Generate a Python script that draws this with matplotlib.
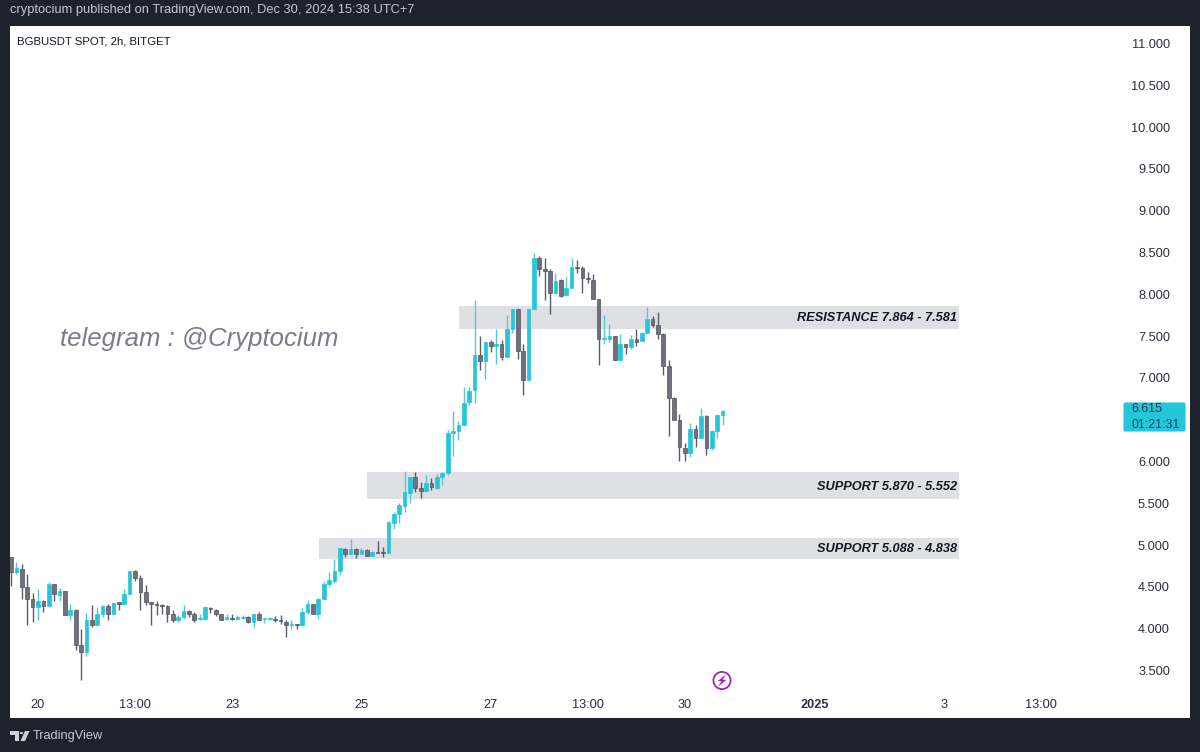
import matplotlib
matplotlib.use("Agg")
import matplotlib.pyplot as plt
from matplotlib.patches import Rectangle, FancyBboxPatch, Polygon, Circle

plt.rcParams['font.family'] = ['Liberation Sans', 'DejaVu Sans']

opens = [4.86,4.68,4.72,4.50,4.36,4.26,4.33,4.27,4.53,4.40,4.45,4.16,4.22,3.81,3.72,4.10,4.04,4.18,4.27,4.18,
         4.32,4.30,4.41,4.69,4.61,4.44,4.32,4.29,4.28,4.27,4.18,4.10,4.14,4.21,4.17,4.12,4.12,4.24,4.22,4.17,
         4.12,4.13,4.12,4.13,4.14,4.08,4.18,4.12,4.12,4.12,4.11,4.08,4.04,4.05,4.04,4.20,4.30,4.18,4.36,4.53,
         4.57,4.69,4.95,4.89,4.95,4.89,4.94,4.87,4.92,4.91,4.90,5.26,5.37,5.47,5.62,5.81,5.68,5.65,5.74,5.68,
         5.81,5.86,6.34,6.37,6.44,6.71,6.85,7.27,7.20,7.43,7.38,7.40,7.25,7.59,7.82,7.32,6.97,7.82,8.43,8.30,
         8.28,8.02,8.17,7.99,8.08,8.33,8.32,8.20,8.17,7.94,7.46,7.47,7.50,7.22,7.41,7.37,7.47,7.44,7.54,7.70,
         7.63,7.53,7.14,6.76,6.50,6.16,6.10,6.39,6.28,6.55,6.16,6.37,6.56]
highs = [4.86,4.80,4.77,4.66,4.43,4.47,4.34,4.56,4.53,4.49,4.45,4.30,4.23,4.00,4.19,4.28,4.26,4.28,4.29,4.32,
         4.32,4.47,4.69,4.70,4.64,4.52,4.32,4.33,4.29,4.28,4.22,4.16,4.28,4.22,4.20,4.17,4.27,4.26,4.23,4.18,
         4.17,4.18,4.16,4.16,4.15,4.18,4.20,4.12,4.14,4.15,4.16,4.10,4.10,4.06,4.25,4.34,4.30,4.37,4.57,4.68,
         4.83,4.96,4.97,5.07,4.96,4.96,4.95,4.93,5.05,4.98,5.28,5.39,5.50,5.89,5.82,5.87,5.75,5.84,5.80,5.85,
         5.87,6.38,6.60,6.48,6.89,6.89,7.93,7.50,7.44,7.45,7.59,7.45,7.75,7.82,7.82,7.41,7.83,8.49,8.46,8.43,
         8.30,8.26,8.18,8.21,8.44,8.41,8.34,8.27,8.24,7.94,7.75,7.65,7.50,7.53,7.41,7.51,7.59,7.55,7.85,7.74,
         7.79,7.54,7.22,6.77,6.57,6.22,6.46,6.44,6.64,6.56,6.38,6.57,6.62]
lows = [4.51,4.65,4.36,4.04,4.08,4.11,4.20,4.27,4.33,4.33,4.16,4.11,3.74,3.39,3.67,4.02,4.04,4.14,4.10,4.17,
        4.22,4.30,4.41,4.57,4.22,4.28,4.05,4.16,4.17,4.08,4.08,4.08,4.12,4.14,4.08,4.11,4.12,4.19,4.15,4.10,
        4.11,4.10,4.10,4.12,4.07,4.01,4.10,4.07,4.10,4.08,4.06,3.90,4.00,4.00,4.03,4.18,4.17,4.12,4.36,4.50,
        4.55,4.64,4.86,4.89,4.85,4.89,4.87,4.87,4.91,4.86,4.90,5.19,5.26,5.40,5.50,5.63,5.56,5.64,5.66,5.67,
        5.72,5.84,6.07,6.26,6.44,6.68,6.70,7.10,6.99,7.31,7.17,7.21,7.25,7.54,7.23,6.79,6.97,7.82,8.22,7.93,
        7.77,8.00,7.97,7.98,8.08,8.25,8.01,8.13,7.94,7.15,7.41,7.43,7.21,7.21,7.29,7.35,7.38,7.44,7.54,7.61,
        7.47,7.04,6.30,6.50,6.01,6.00,6.05,6.17,6.28,6.08,6.14,6.28,6.44]
closes = [4.68,4.73,4.50,4.36,4.26,4.33,4.27,4.53,4.41,4.45,4.16,4.22,3.80,3.72,4.10,4.04,4.18,4.27,4.18,4.31,
          4.30,4.41,4.69,4.61,4.44,4.32,4.29,4.28,4.27,4.18,4.10,4.14,4.21,4.18,4.11,4.13,4.26,4.23,4.17,4.11,
          4.14,4.12,4.14,4.14,4.08,4.18,4.11,4.12,4.12,4.10,4.09,4.04,4.06,4.04,4.20,4.30,4.18,4.36,4.53,4.58,
          4.69,4.96,4.89,4.95,4.89,4.94,4.87,4.92,4.91,4.90,5.28,5.37,5.48,5.63,5.82,5.68,5.65,5.74,5.69,5.81,
          5.86,6.34,6.37,6.44,6.70,6.84,7.27,7.20,7.43,7.38,7.40,7.25,7.59,7.82,7.32,6.97,7.82,8.43,8.30,8.28,
          8.02,8.16,7.98,8.08,8.33,8.31,8.20,8.18,7.94,7.46,7.47,7.50,7.22,7.41,7.37,7.47,7.43,7.54,7.70,7.63,
          7.53,7.14,6.76,6.50,6.17,6.10,6.39,6.28,6.54,6.16,6.37,6.56,6.61]

# 6.500 is hidden behind the last-price tag in the reference, so it has no label
y_ticks = [3.5,4.0,4.5,5.0,5.5,6.0,7.0,7.5,8.0,8.5,9.0,9.5,10.0,10.5,11.0]
x_tick_bars = [5,23,41,65,89,107,125,149,173,191]
x_tick_labels = ['20','13:00','23','25','27','13:00','30','2025','3','13:00']

zone_tops = [7.864,5.870,5.088]
zone_bottoms = [7.581,5.552,4.838]
zone_starts = [83.1,66.0,57.1]
zone_end = 175.9
zone_labels = ['RESISTANCE 7.864 - 7.581','SUPPORT 5.870 - 5.552','SUPPORT 5.088 - 4.838']

W, H = 1200, 752
BG = '#1e222d'
TEAL = '#26c6da'
GRAY = '#6f717c'
fig = plt.figure(figsize=(W/100, H/100), dpi=100, facecolor=BG)
L, R, T, B = 9.5, 1190, 26, 718
ax = fig.add_axes([L/W, 1-B/H, (R-L)/W, (B-T)/H], facecolor='white')
ax.set_xlim(-0.28, 218.7)
ax.set_ylim(2.932, 11.209)
for s in ax.spines.values():
    s.set_visible(False)

# zones
for top, bot, st, lab in zip(zone_tops, zone_bottoms, zone_starts, zone_labels):
    ax.add_patch(Rectangle((st, bot), zone_end-st, top-bot, fc='#dfe0e4', ec='none', zorder=1))
    ax.text(zone_end-0.4, (top+bot)/2-0.012, lab, ha='right', va='center', fontsize=9.2,
            fontweight='bold', fontstyle='italic', color='#131722', zorder=5)

# candles
for i, (o, h, l, c) in enumerate(zip(opens, highs, lows, closes)):
    up = c >= o
    ax.vlines(i, l, h, color='#55c8da' if up else '#5a5c67', lw=1.0, zorder=2)
    body = max(abs(c-o), 0.012)
    ax.bar(i, body, bottom=min(o, c), width=0.68,
           color=TEAL if up else GRAY, edgecolor=TEAL if up else '#50525d',
           linewidth=0.5, zorder=3)

# axes ticks
ax.yaxis.tick_right()
ax.set_yticks(y_ticks)
ax.set_yticklabels([f'{v:.3f}' for v in y_ticks])
ax.tick_params(axis='y', length=0, pad=-14.4, labelsize=9.2, labelcolor='#2a2e39')
for t in ax.get_yticklabels():
    t.set_ha('right')
ax.set_xticks(x_tick_bars)
ax.set_xticklabels(x_tick_labels)
ax.tick_params(axis='x', length=0, pad=-13.5, labelsize=9.2, labelcolor='#2a2e39')
for t in ax.get_xticklabels():
    if t.get_text() == '2025':
        t.set_fontweight('bold')


def fx(x):
    return x/W


def fy(y):
    return 1-y/H


# text
fig.text(fx(10), fy(9.5), 'cryptocium published on TradingView.com, Dec 30, 2024 15:38 UTC+7',
         color='#c3c6ce', fontsize=9.3, va='center', ha='left')
fig.text(fx(17), fy(41), 'BGBUSDT SPOT, 2h, BITGET', color='#131722', fontsize=8.2, va='center', ha='left')
fig.text(fx(59.5), fy(338.5), 'telegram : @Cryptocium', color='#7a7d88', fontsize=18.5,
         fontstyle='italic', va='center', ha='left')
fig.text(fx(33), fy(736), 'TradingView', color='#c8cad1', fontsize=9.2, va='center', ha='left')

# last price tag
fig.add_artist(FancyBboxPatch((fx(1124), fy(431)), 61/W, 28/H, boxstyle='round,pad=0,rounding_size=0.0012',
                              transform=fig.transFigure, fc=TEAL, ec=TEAL, lw=0.8))
fig.text(fx(1131), fy(409.5), '6.615', color='#0f3a4a', fontsize=8.9, va='center', ha='left')
fig.text(fx(1131), fy(424.5), '01:21:31', color='#0f4a5c', fontsize=8.9, va='center', ha='left')

# TradingView logo
for pts in ([(10, 731), (19, 731), (19, 741), (14.5, 741), (14.5, 735), (10, 735)],
            [(20.5, 741), (25, 731), (29.5, 731), (25, 741)]):
    fig.add_artist(Polygon([(fx(a), fy(b)) for a, b in pts], closed=True, transform=fig.transFigure,
                           fc='#d0d2d8', ec='none'))
fig.add_artist(Circle((fx(21.5), fy(733)), 1.7/W, transform=fig.transFigure, fc='#d0d2d8', ec='none'))

# bolt icon
icon_x, icon_y = 722, 680.5
ax_icon = fig.add_axes([fx(icon_x-10), fy(icon_y+10), 20/W, 20/H], facecolor='none')
ax_icon.set_xlim(-10, 10)
ax_icon.set_ylim(-10, 10)
ax_icon.axis('off')
ax_icon.add_patch(Circle((0, 0), 8.6, fc='none', ec='#9c27b0', lw=1.3))
ax_icon.add_patch(Polygon([(4, 6), (-4.5, -0.7), (-0.6, -0.7), (-4, -6), (4.5, 0.7), (0.6, 0.7)],
                          closed=True, fc='#9c27b0', ec='none'))

fig.savefig('out.png', dpi=100, facecolor=BG)
